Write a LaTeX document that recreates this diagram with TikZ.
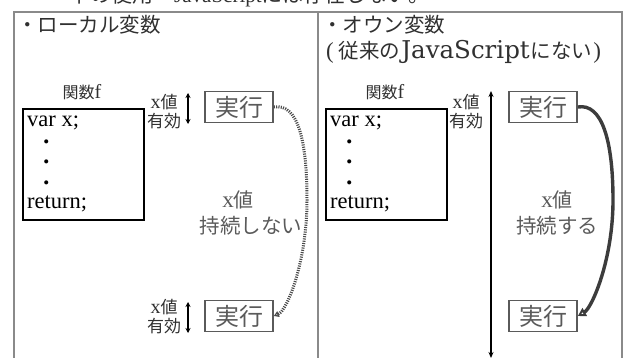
\documentclass[tikz,border=0pt]{standalone}
\usepackage{fontspec}
\setmainfont{Liberation Serif}
\newfontfamily\jp{Noto Sans CJK JP}
\newfontfamily\wideserif{DejaVu Serif}
\usetikzlibrary{arrows.meta}
\definecolor{framegray}{HTML}{8A8A8A}
\definecolor{txtdark}{HTML}{303030}
\definecolor{txtgray}{HTML}{5A5A5A}
\definecolor{curvegray}{HTML}{3C3C3C}
\definecolor{dotgray}{HTML}{4A4A4A}
\newcommand{\cbul}{{\fontsize{17}{20.5}\selectfont\hspace{0.95em}•}}
\tikzset{
  title/.style={anchor=west, inner sep=0pt, text=txtdark, font=\jp\fontsize{20.5}{24}\selectfont},
  fname/.style={inner sep=0pt, text=txtdark, font=\fontsize{20}{22}\selectfont},
  funcbox/.style={draw=black, line width=1.6pt, minimum width=121pt, minimum height=111pt, anchor=north west, inner sep=0pt},
  code/.style={anchor=north west, align=left, inner sep=0pt, font=\fontsize{22.5}{20.5}\selectfont},
  valid/.style={align=center, inner sep=0pt, text=txtdark, font=\fontsize{20}{19}\selectfont},
  runbox/.style={draw=txtgray, line width=1.7pt, minimum width=68pt, minimum height=31pt, inner sep=0pt, text=txtgray, font=\jp\fontsize{24}{26}\selectfont},
  persist/.style={align=center, inner sep=0pt, text=txtgray, font=\fontsize{23}{26}\selectfont},
  vsmall/.style={{Stealth[length=5pt,width=5pt]}-{Stealth[length=5pt,width=5pt]}, line width=1.4pt},
  frame/.style={draw=framegray, line width=1.2pt}
}
\begin{document}
\begin{tikzpicture}[x=1pt,y=-1pt]
\useasboundingbox (0,0) rectangle (628,358);
% clipped top text line
\begin{scope}
\clip (0,0) rectangle (628,8);
\node[anchor=base west, inner sep=0pt, text=txtdark, font=\fontsize{21}{24}\selectfont] (top) at (48,3) {{\jp ・下の使用・}JavaScript{\jp には存在しない。}};
\end{scope}
% frame
\coordinate (fl) at (14,12); \coordinate (fr) at (622,12); \coordinate (fm) at (318,12);
\coordinate (bl) at (14,358); \coordinate (br) at (622,358); \coordinate (bm) at (318,358);
\draw[frame] (bl) -- (fl) -- (fr) -- (br);
\draw[frame] (fm) -- (bm);
% left panel
\node[title] (t1) at (17,25) {・ローカル変数};
\node[fname] (fn1) at (82,92) {{\jp\fontsize{16}{18}\selectfont 関数}f};
\node[funcbox] (f1) at (22,108) {};
\node[code] (c1) at (27,116) {var x;\\\cbul\\\cbul\\\cbul\\return;};
\node[valid] (v1) at (164,112) {x{\jp\fontsize{17}{19}\selectfont 値}\\{\jp\fontsize{17}{19}\selectfont 有効}};
\coordinate (a1t) at (188,93); \coordinate (a1b) at (188,124);
\draw[vsmall] (a1t) -- (a1b);
\node[runbox] (r1) at (239,107) {実行};
\node[persist] (p1) at (251,213) {x{\jp\fontsize{20}{26}\selectfont 値}\hspace{26pt}\mbox{}\\{\jp\fontsize{20.5}{26}\selectfont 持続しない}};
\node[valid] (v2) at (164,317) {x{\jp\fontsize{17}{19}\selectfont 値}\\{\jp\fontsize{17}{19}\selectfont 有効}};
\coordinate (a2t) at (188,302); \coordinate (a2b) at (188,333);
\draw[vsmall] (a2t) -- (a2b);
\node[runbox] (r2) at (239,316) {実行};
\draw[dotgray, line width=3pt, dash pattern=on 1.1pt off 1.2pt, -{Triangle[open,length=5pt,width=6pt]}]
  (r1.east) .. controls +(24,-4) and +(0,-60) .. (307,200) .. controls +(0,60) and +(14,-6) .. (r2.east);
% right panel
\node[title] (t2) at (322,25) {・オウン変数};
\node[title] (t3) at (326,52) {{\fontspec{Liberation Serif}\fontsize{23}{26}\selectfont(}\hspace{5pt}従来の\hspace{1pt}{\wideserif\fontsize{24.5}{26}\selectfont JavaScript}\hspace{1pt}にない\hspace{1pt}{\fontspec{Liberation Serif}\fontsize{23}{26}\selectfont)}};
\node[fname] (fn2) at (385,92) {{\jp\fontsize{16}{18}\selectfont 関数}f};
\node[funcbox] (f2) at (325,108) {};
\node[code] (c2) at (330,116) {var x;\\\cbul\\\cbul\\\cbul\\return;};
\node[valid] (v3) at (466,112) {x{\jp\fontsize{17}{19}\selectfont 値}\\{\jp\fontsize{17}{19}\selectfont 有効}};
\coordinate (a3t) at (491,91); \coordinate (a3b) at (491,358);
\draw[{Stealth[length=6pt,width=5pt]}-{Stealth[length=6pt,width=5pt]}, line width=1.3pt] (a3t) -- (a3b);
\node[runbox] (r3) at (543,107) {実行};
\node[persist] (p2) at (557,213) {x{\jp\fontsize{20}{26}\selectfont 値}\\{\jp\fontsize{20.5}{26}\selectfont 持続する}};
\node[runbox] (r4) at (543,316) {実行};
\draw[curvegray, line width=3.4pt, -{Triangle[open,length=8pt,width=9pt]}]
  (r3.east) .. controls +(24,-4) and +(0,-60) .. (613,200) .. controls +(0,60) and +(14,-8) .. (r4.east);
\end{tikzpicture}
\end{document}
